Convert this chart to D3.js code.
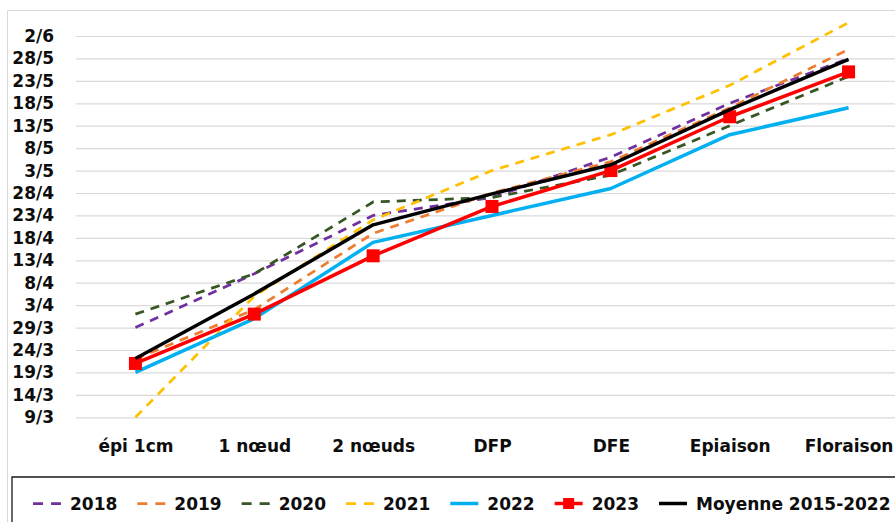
<!DOCTYPE html>
<html>
<head>
<meta charset="utf-8">
<script src="https://cdn.jsdelivr.net/npm/d3@7"></script>
<style>
  body { margin: 0; background: #fff; }
  svg text { font-family: "DejaVu Sans", sans-serif; font-weight: bold; font-size: 17px; fill: #0d0d0d; }
</style>
</head>
<body>
<div id="chartContainer"></div>
<script>
const categories = ['épi 1cm', '1 nœud', '2 nœuds', 'DFP', 'DFE', 'Epiaison', 'Floraison'];
const seriesNames = ['2018', '2019', '2020', '2021', '2022', '2023', 'Moyenne 2015-2022'];

// dates read as day/month (moyenne can fall between days)
const s2018 = ['29/3', '10/4', '23/4', '27/4', '6/5', '18/5', '28/5'];
const s2019 = ['22/3', '2/4', '19/4', '28/4', '5/5', '17/5', '30/5'];
const s2020 = ['1/4', '10/4', '26/4', '27/4', '2/5', '13/5', '24/5'];
const s2021 = ['9/3', '5/4', '22/4', '3/5', '11/5', '22/5', '5/6'];
const s2022 = ['19/3', '31/3', '17/4', '23/4', '29/4', '11/5', '17/5'];
const s2023 = ['21/3', '1/4', '14/4', '25/4', '3/5', '15/5', '25/5'];
const moyenne = ['22.1/3', '5.5/4', '20.9/4', '27.8/4', '4.3/5', '16.6/5', '27.8/5'];

const yTicks = ['9/3', '14/3', '19/3', '24/3', '29/3', '3/4', '8/4', '13/4', '18/4',
    '23/4', '28/4', '3/5', '8/5', '13/5', '18/5', '23/5', '28/5', '2/6'];

const monthStart = [0, 31, 59, 90, 120, 151, 181];
function toDay(s) {
    const parts = s.split('/');
    return monthStart[+parts[1] - 1] + parseFloat(parts[0]);
}

const styles = [
    { color: '#7030A0', dash: '9,7', width: 2.75 },
    { color: '#ED7D31', dash: '9,7', width: 2.75 },
    { color: '#375623', dash: '9,7', width: 2.75 },
    { color: '#FFC000', dash: '9,7', width: 2.75 },
    { color: '#00B0F0', dash: null, width: 3.5 },
    { color: '#FF0000', dash: null, width: 3.5, marker: true },
    { color: '#000000', dash: null, width: 3.5 },
];
const allSeries = [s2018, s2019, s2020, s2021, s2022, s2023, moyenne];

const svgWidth = 895;
const svgHeight = 522;
const plot = { left: 76, right: 908, top: 36, bottom: 417.3 };

const svg = d3.select('#chartContainer')
    .append('svg')
    .attr('width', svgWidth)
    .attr('height', svgHeight);

// chart border
svg.append('path')
    .attr('d', `M7.5,${svgHeight} V10.5 H${svgWidth}`)
    .attr('fill', 'none')
    .attr('stroke', '#d9d9d9')
    .attr('stroke-width', 1);

const xScale = d3.scalePoint()
    .domain(categories)
    .range([plot.left, plot.right])
    .padding(0.5);

const yScale = d3.scaleLinear()
    .domain([toDay(yTicks[0]), toDay(yTicks[yTicks.length - 1])])
    .range([plot.bottom, plot.top]);

const yAxis = d3.axisLeft(yScale)
    .tickValues(yTicks.map(toDay))
    .tickFormat((d, i) => yTicks[i])
    .tickSizeInner(-(plot.right - plot.left))
    .tickSizeOuter(0)
    .tickPadding(22);

const yG = svg.append('g')
    .attr('transform', `translate(${plot.left},0)`)
    .call(yAxis);
yG.select('.domain').remove();
yG.selectAll('line').attr('stroke', '#d9d9d9').attr('stroke-width', 1.2);
yG.selectAll('text').attr('font-size', null).attr('font-family', null);

const xAxis = d3.axisBottom(xScale).tickSize(0).tickPadding(23);
const xG = svg.append('g')
    .attr('transform', `translate(0,${plot.bottom})`)
    .call(xAxis);
xG.select('.domain').remove();
xG.selectAll('text').attr('font-size', null).attr('font-family', null);

const line = d3.line()
    .x((d, i) => xScale(categories[i]))
    .y(d => yScale(toDay(d)));

const series = svg.append('g');
allSeries.forEach((values, k) => {
    const st = styles[k];
    series.append('path')
        .datum(values)
        .attr('fill', 'none')
        .attr('stroke', st.color)
        .attr('stroke-width', st.width)
        .attr('stroke-dasharray', st.dash)
        .attr('stroke-linejoin', 'round')
        .attr('d', line);
    if (st.marker) {
        series.selectAll('.marker')
            .data(values)
            .enter().append('rect')
            .attr('class', 'marker')
            .attr('x', (d, i) => xScale(categories[i]) - 6.5)
            .attr('y', d => yScale(toDay(d)) - 6.5)
            .attr('width', 13)
            .attr('height', 13)
            .attr('fill', st.color);
    }
});

// legend box
svg.append('path')
    .attr('d', `M12,${svgHeight} V477 H${svgWidth}`)
    .attr('fill', 'none')
    .attr('stroke', '#1a1a1a')
    .attr('stroke-width', 1.3);

const legend = svg.append('g');
let lx = 33;
const ly = 503.5;
seriesNames.forEach((name, k) => {
    const st = styles[k];
    legend.append('line')
        .attr('x1', lx).attr('x2', lx + 28)
        .attr('y1', ly).attr('y2', ly)
        .attr('stroke', st.color)
        .attr('stroke-width', st.width)
        .attr('stroke-dasharray', st.dash ? '10,8' : null);
    if (st.marker) {
        legend.append('rect')
            .attr('x', lx + 14 - 5.5).attr('y', ly - 5.5)
            .attr('width', 11).attr('height', 11)
            .attr('fill', st.color);
    }
    const t = legend.append('text')
        .attr('x', lx + 37)
        .attr('y', ly + 6)
        .text(name);
    lx += 37 + t.node().getComputedTextLength() + 20;
});
</script>
</body>
</html>
